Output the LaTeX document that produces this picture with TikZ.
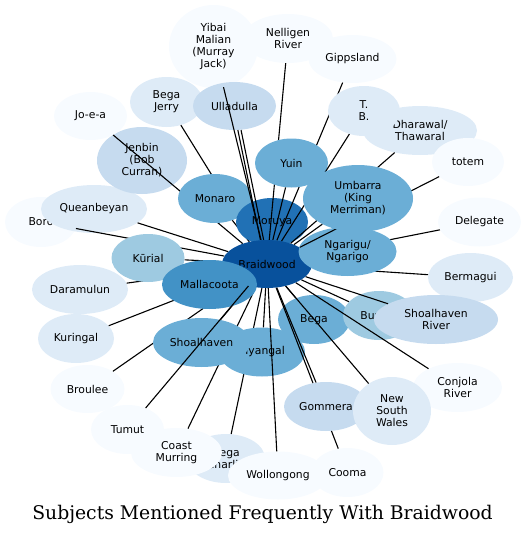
\documentclass[tikz,border=0pt]{standalone}
\usepackage{fontspec}
\setmainfont{DejaVu Sans}
\newfontfamily\titlefont{DejaVu Serif}
\usetikzlibrary{shapes.geometric}
\pgfdeclarelayer{front}
\pgfdeclarelayer{top}
\pgfsetlayers{main,front,top}
\definecolor{blue0}{HTML}{F7FBFF}
\definecolor{blue1}{HTML}{DEEBF7}
\definecolor{blue2}{HTML}{C6DBEF}
\definecolor{blue3}{HTML}{9ECAE1}
\definecolor{blue4}{HTML}{6BAED6}
\definecolor{blue5}{HTML}{4292C6}
\definecolor{blue6}{HTML}{2171B5}
\definecolor{blue7}{HTML}{08519C}

\begin{document}
\begin{tikzpicture}[x=1pt, y=-1pt,
    topic/.style={ellipse, inner sep=0pt, minimum height=49pt, align=center, font=\fontsize{10.8}{12}\selectfont},
    link/.style={line width=1.1pt}
]
\useasboundingbox (0,0) rectangle (525,536);

\begin{pgfonlayer}{front}
\node[topic, fill=blue7, minimum width=90pt, minimum height=48pt] (braid) at (267,264) {Braidwood};
\end{pgfonlayer}

% outer ring, upper half
\node[topic, fill=blue0, minimum width=72pt, minimum height=50pt] (boro) at (41,222) {Boro};
\node[topic, fill=blue1, minimum width=106pt, minimum height=48pt] (queanbeyan) at (94,209) {Queanbeyan};
\node[topic, fill=blue2, minimum width=90pt, minimum height=67pt] (jenbin) at (142,160.5) {Jenbin\\(Bob\\Curran)};
\node[topic, fill=blue0, minimum width=73pt, minimum height=48pt] (joea) at (90.5,116) {Jo-e-a};
\node[topic, fill=blue1, minimum width=73pt, minimum height=50pt] (begajerry) at (166.5,102) {Bega\\Jerry};
\node[topic, fill=blue0, minimum width=89pt, minimum height=83pt] (yibai) at (213.5,46.5) {Yibai\\Malian\\(Murray\\Jack)};
\node[topic, fill=blue0, minimum width=90pt] (nelligen) at (288,38.5) {Nelligen\\River};
\node[topic, fill=blue0, minimum width=88pt, minimum height=48pt] (gippsland) at (352.5,59) {Gippsland};
\node[topic, fill=blue1, minimum width=114pt] (dharawal) at (420,130.5) {Dharawal/\\Thawaral};
\node[topic, fill=blue0, minimum width=72pt, minimum height=48pt] (totem) at (468,162) {totem};
\node[topic, fill=blue0, minimum width=83pt] (delegate) at (479.5,222) {Delegate};
\node[topic, fill=blue1, minimum width=85pt] (bermagui) at (470.5,277.5) {Bermagui};

\draw[link] (braid) -- (joea);
\draw[link] (braid) -- (begajerry);
\node[topic, fill=blue4, minimum width=74pt] (monaro) at (215,198.5) {Monaro};
\draw[link] (braid) -- (monaro);
\node[topic, fill=blue6, minimum width=72pt, minimum height=48pt] (moruya) at (272,222) {Moruya};
\node[topic, fill=blue2, minimum width=83pt, minimum height=48pt] (ulladulla) at (234.5,106) {Ulladulla};
\draw[link] (braid) -- (yibai);
\draw[link, transform canvas={xshift=-1.6pt}] (braid) -- (ulladulla);
\draw[link, transform canvas={xshift=1.6pt}] (braid) -- (ulladulla);
\draw[link] (braid) -- (nelligen);
\draw[link] (braid) -- (gippsland);
\node[topic, fill=blue1, minimum width=72pt, minimum height=50pt] (tb) at (364,111) {T.\\B.};
\node[topic, fill=blue4, minimum width=73pt] (yuin) at (291.5,163) {Yuin};
\draw[link] (braid) -- (yuin);
\draw[link] (braid) -- (delegate);
\draw[link] (braid) -- (bermagui);

% outer ring, left side
\draw[link] (braid) -- (boro);
\draw[link] (braid) -- (queanbeyan);
\node[topic, fill=blue1, minimum width=96pt] (daramulun) at (80,289.5) {Daramulun};
\draw[link] (braid) -- (daramulun);
\node[topic, fill=blue3, minimum width=73pt, minimum height=48pt] (kurial) at (148,258) {Kūrial};
\draw[link] (braid) -- (kurial);
\node[topic, fill=blue1, minimum width=76pt] (kuringal) at (76,338.5) {Kuringal};
\draw[link] (braid) -- (kuringal);
\node[topic, fill=blue0, minimum width=74pt, minimum height=48pt] (broulee) at (87.5,389) {Broulee};
\draw[link] (braid) -- (broulee);

% outer ring, lower half
\node[topic, fill=blue0, minimum width=73pt] (tumut) at (127.5,429.5) {Tumut};
\node[topic, fill=blue1, minimum width=78pt] (begacharlie) at (226,458.5) {Bega\\Charlie};
\node[topic, fill=blue0, minimum width=91pt] (coastmurring) at (176.5,452.5) {Coast\\Murring};
\node[topic, fill=blue0, minimum width=100pt, minimum height=48pt] (wollongong) at (278,475.5) {Wollongong};
\node[topic, fill=blue0, minimum width=72pt] (cooma) at (347.5,472.5) {Cooma};
\draw[link] (braid) -- (coastmurring);
\draw[link] (braid) -- (begacharlie);
\node[topic, fill=blue4, minimum width=86pt] (myangal) at (262,352) {Myangal};
\draw[link] (braid) -- (wollongong);
\draw[link] (braid) -- (myangal);
\node[topic, fill=blue4, minimum width=97pt] (shoalhaven) at (201.5,342.5) {Shoalhaven};
\draw[link] (braid) -- (shoalhaven);

% outer ring, lower right
\node[topic, fill=blue4, minimum width=72pt] (bega) at (314,319.5) {Bega};
\draw[link] (braid) -- (bega);
\node[topic, fill=blue3, minimum width=72pt] (burrier) at (379,315.5) {Burrier};
\draw[link] (braid) -- (burrier);
\node[topic, fill=blue2, minimum width=124pt] (shoalriver) at (436,319.5) {Shoalhaven\\River};
\draw[link] (braid) -- (shoalriver);
\node[topic, fill=blue0, minimum width=89pt] (conjola) at (457.5,387.5) {Conjola\\River};
\draw[link] (braid) -- (conjola);
\draw[link] (braid) -- (cooma);
\node[topic, fill=blue2, minimum width=84pt] (gommera) at (326,406.5) {Gommera};
\draw[link] (braid) -- (gommera);
\node[topic, fill=blue1, minimum width=78pt, minimum height=68pt] (nsw) at (392,411) {New\\South\\Wales};
\draw[link] (braid) -- (nsw);

% inner nodes over Braidwood
\begin{pgfonlayer}{top}
\node[topic, fill=blue5, minimum width=95pt] (mallacoota) at (209.5,284.5) {Mallacoota};
\draw[link] (braid) -- (tumut);
\node[topic, fill=blue4, minimum width=98pt] (ngarigu) at (347.5,251.5) {Ngarigu/\\Ngarigo};
\draw[link] (braid) -- (tb);
\draw[link] (braid) -- (dharawal);
\draw[link] (braid) -- (totem);
\node[topic, fill=blue4, minimum width=110pt, minimum height=67pt] (umbarra) at (358,198.5) {Umbarra\\(King\\Merriman)};
\draw[link] (braid) -- (umbarra);
\end{pgfonlayer}

\node (title) at (262.5,514) {\titlefont\fontsize{18.8}{22}\selectfont Subjects Mentioned Frequently With Braidwood};
\end{tikzpicture}
\end{document}
